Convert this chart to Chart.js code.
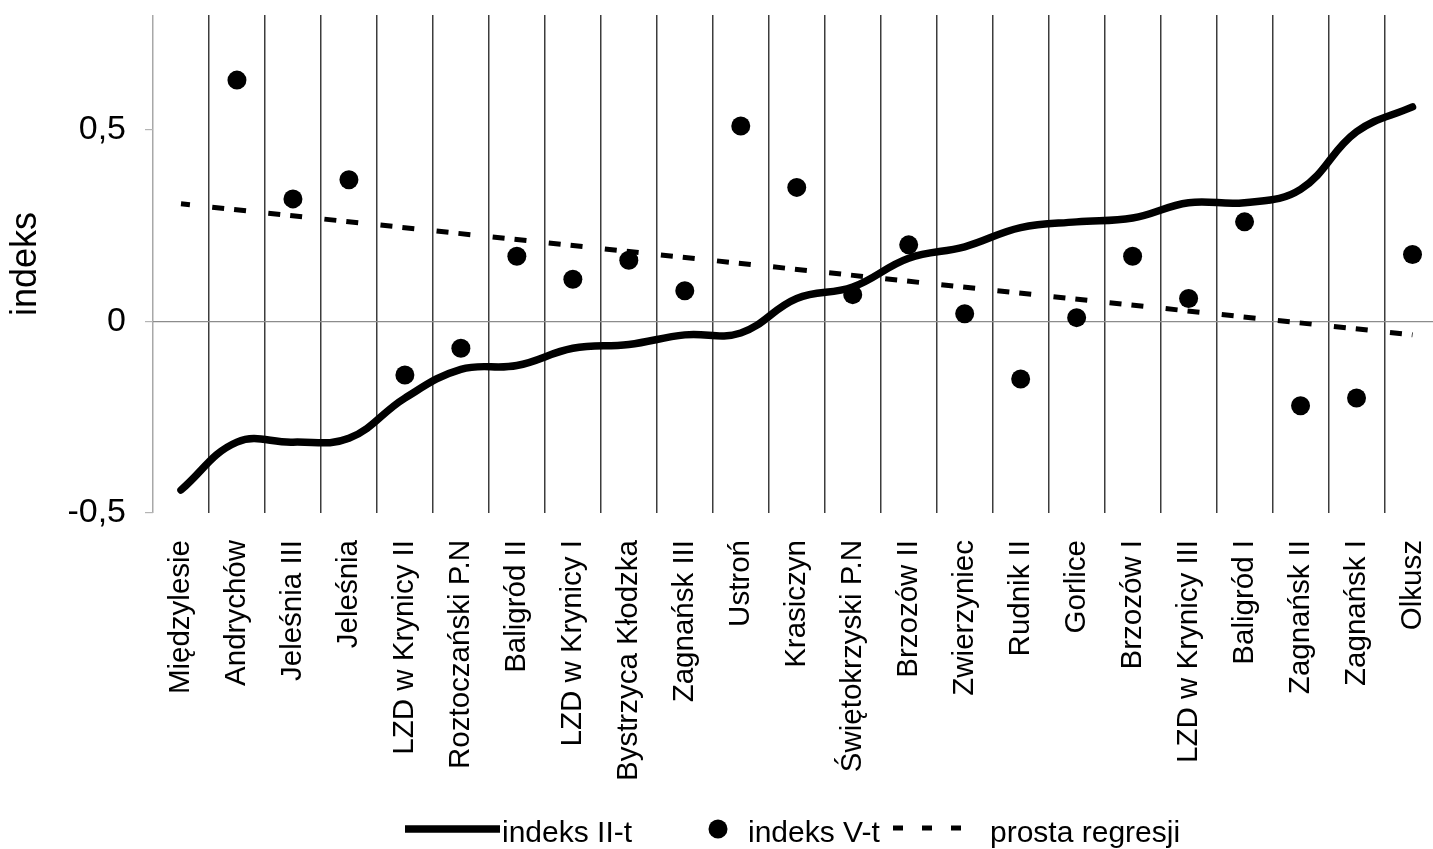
<!DOCTYPE html>
<html lang="pl">
<head>
<meta charset="utf-8">
<title>indeks II-t i V-t</title>
<script src="https://cdn.jsdelivr.net/npm/chart.js@4.4.1/dist/chart.umd.min.js"></script>
<style>
  html, body { margin: 0; padding: 0; background: #fff; overflow: hidden; }
  #wrap { position: relative; width: 1450px; height: 849px; }
</style>
</head>
<body>
<div id="wrap"><canvas id="chart"></canvas></div>
<script>
// Stanowiska (oś X)
const categories = [
  'Międzylesie', 'Andrychów', 'Jeleśnia III', 'Jeleśnia', 'LZD w Krynicy II',
  'Roztoczański P.N', 'Baligród II', 'LZD w Krynicy I', 'Bystrzyca Kłodzka',
  'Zagnańsk III', 'Ustroń', 'Krasiczyn', 'Świętokrzyski P.N', 'Brzozów II',
  'Zwierzyniec', 'Rudnik II', 'Gorlice', 'Brzozów I', 'LZD w Krynicy III',
  'Baligród I', 'Zagnańsk II', 'Zagnańsk I', 'Olkusz'
];

// indeks II-t (linia wygładzona)
const indeksIIt = [
  -0.44, -0.315, -0.315, -0.305, -0.20, -0.125, -0.115, -0.07, -0.06,
  -0.035, -0.03, 0.06, 0.09, 0.165, 0.195, 0.245, 0.26, 0.27, 0.31,
  0.31, 0.345, 0.495, 0.56
];

// indeks V-t (punkty)
const indeksVt = [
  null, 0.63, 0.32, 0.37, -0.14, -0.07, 0.17, 0.11, 0.16,
  0.08, 0.51, 0.35, 0.07, 0.20, 0.02, -0.15, 0.01, 0.17, 0.06,
  0.26, -0.22, -0.20, 0.175
];

// prosta regresji: wartości na końcach odcinka
const regresja = [
  0.307, null, null, null, null, null, null, null, null, null, null, null,
  null, null, null, null, null, null, null, null, null, null, -0.035
];

// Opisane wartości osi Y
const yTicks = [-0.5, 0, 0.5];

const FONT = '"Liberation Sans", Arial, Helvetica, sans-serif';
Chart.defaults.font.family = FONT;
Chart.defaults.color = '#000';

// Legenda rysowana pod wykresem: linia, punkt, linia przerywana
const bottomLegend = {
  id: 'bottomLegend',
  afterDraw(chart) {
    const ctx = chart.ctx;
    const [dots, line, reg] = chart.data.datasets;
    const yMid = 829;
    const yText = 842;
    ctx.save();
    ctx.font = '30px ' + FONT;
    ctx.textBaseline = 'alphabetic';
    ctx.textAlign = 'left';

    ctx.strokeStyle = line.borderColor;
    ctx.lineWidth = line.borderWidth;
    ctx.lineCap = 'butt';
    ctx.beginPath();
    ctx.moveTo(405, yMid);
    ctx.lineTo(500, yMid);
    ctx.stroke();
    ctx.fillStyle = '#000';
    ctx.fillText(line.label, 502, yText);

    ctx.beginPath();
    ctx.arc(718, yMid, dots.pointRadius, 0, Math.PI * 2);
    ctx.fillStyle = dots.pointBackgroundColor;
    ctx.fill();
    ctx.fillStyle = '#000';
    ctx.fillText(dots.label, 748, yText);

    ctx.strokeStyle = reg.borderColor;
    ctx.lineWidth = reg.borderWidth;
    ctx.setLineDash([10, 19]);
    ctx.beginPath();
    ctx.moveTo(893, yMid - 1);
    ctx.lineTo(962, yMid - 1);
    ctx.stroke();
    ctx.setLineDash([]);
    ctx.fillText(reg.label, 990, yText);
    ctx.restore();
  }
};

new Chart(document.getElementById('chart'), {
  type: 'line',
  data: {
    labels: categories,
    datasets: [
      {
        label: 'indeks V-t',
        data: indeksVt,
        showLine: false,
        borderColor: '#000',
        pointRadius: 9.5,
        pointHoverRadius: 9.5,
        pointBorderWidth: 0,
        pointBackgroundColor: '#000'
      },
      {
        label: 'indeks II-t',
        data: indeksIIt,
        borderColor: '#000',
        borderWidth: 7.5,
        tension: 0.4,
        borderCapStyle: 'round',
        pointRadius: 0,
        pointHoverRadius: 0,
        fill: false
      },
      {
        label: 'prosta regresji',
        data: regresja,
        spanGaps: true,
        borderColor: '#000',
        borderWidth: 5,
        borderDash: [12, 22.4, 12, 10],
        borderDashOffset: 3,
        pointRadius: 0,
        pointHoverRadius: 0,
        fill: false
      }
    ]
  },
  options: {
    responsive: true,
    maintainAspectRatio: false,
    animation: false,
    layout: { padding: { top: 15, left: 0, right: 0, bottom: 36 } },
    plugins: {
      legend: { display: false },
      tooltip: { enabled: false }
    },
    scales: {
      x: {
        offset: true,
        grid: {
          offset: true,
          drawTicks: false,
          lineWidth: 1.5,
          color: c => (c.index === 0 ? '#a8a8a8' : '#3c3c3c')
        },
        border: { display: false },
        ticks: {
          autoSkip: false,
          minRotation: 90,
          maxRotation: 90,
          padding: 27,
          color: '#000',
          font: { size: 29.5 }
        },
        afterFit: s => {
          s.height = 300;
          s.paddingLeft = 0;
          s.paddingRight = 0;
        }
      },
      y: {
        min: -0.5,
        max: 0.8,
        afterBuildTicks: s => { s.ticks = yTicks.map(v => ({ value: v })); },
        grid: {
          lineWidth: 1.2,
          tickLength: 8,
          tickColor: '#b4b4b4',
          color: c => (c.tick && c.tick.value === 0 ? '#8c8c8c' : 'rgba(0,0,0,0)')
        },
        border: { display: false },
        ticks: {
          padding: 19,
          color: '#000',
          font: { size: 34 },
          callback: v => String(v).replace('.', ',')
        },
        title: {
          display: true,
          text: 'indeks',
          color: '#000',
          font: { size: 36 },
          padding: { top: 4, bottom: 0 }
        },
        afterFit: s => {
          s.width = 153;
          s.paddingTop = 0;
          s.paddingBottom = 0;
        }
      }
    }
  },
  plugins: [bottomLegend]
});
</script>
</body>
</html>
